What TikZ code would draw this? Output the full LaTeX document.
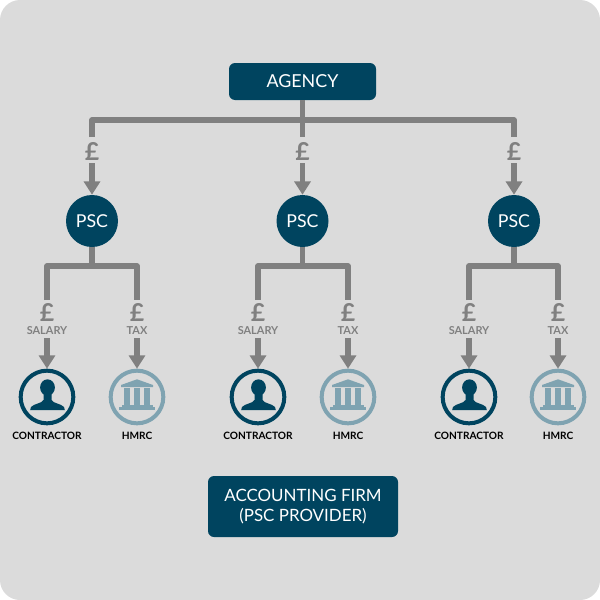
\documentclass[tikz,border=0pt]{standalone}
\usepackage{fontspec}
\setmainfont{Lato}
\usetikzlibrary{arrows.meta,calc}
\definecolor{navy}{HTML}{00445F}
\definecolor{teal}{HTML}{7FA3B1}
\definecolor{pale}{HTML}{DBDBDB}
\definecolor{wire}{HTML}{808080}
\tikzset{
  x=0.75pt,y=-0.75pt,
  box/.style={fill=navy,rounded corners=4.5pt,text=white,font=\fontsize{12.7}{15.5}\selectfont,align=center,inner sep=0pt},
  pscnode/.style={circle,fill=navy,text=white,minimum size=39pt,inner sep=0pt,font=\fontsize{13.3}{15}\selectfont},
  ring/.style={circle,draw=#1,line width=3pt,minimum size=39.5pt,inner sep=0pt},
  wireline/.style={draw=wire,line width=4pt,line join=round},
  arrowline/.style={draw=wire,line width=4pt,-{Triangle[length=10pt,width=12pt,sep=0pt]},shorten >=0pt},
  pound/.style={text=wire,font=\bfseries\fontsize{18.5}{18.5}\selectfont,inner sep=0pt},
  sublabel/.style={text=wire,font=\bfseries\fontsize{8.2}{9}\selectfont,inner sep=0pt},
  caption/.style={text=black,font=\bfseries\fontsize{7.6}{9}\selectfont,inner sep=0pt},
  person/.pic={
    \fill[navy] (0.5,-9.5) ellipse [x radius=7.4,y radius=8.2];
    \fill[navy] (-3.5,-5) -- (-3.5,3) .. controls (-5,6.5) and (-13,6.5) .. (-16,10) -- (-16.8,13) -- (17.8,13) -- (17,10) .. controls (14,6.5) and (6,6.5) .. (4.5,3) -- (4.5,-5) -- cycle;
  },
  bank/.pic={
    \fill[teal] (0,-17.7) -- (16,-12) -- (16,-10) -- (-16,-10) -- (-16,-12) -- cycle;
    \fill[teal] (-13,-8.7) rectangle (-7,8);
    \fill[teal] (-3.3,-8.7) rectangle (3.3,8);
    \fill[teal] (7,-8.7) rectangle (13,8);
    \fill[teal] (-15.5,8) rectangle (15.5,10);
    \fill[teal] (-18,10) rectangle (18,12.5);
  }
}
\newcommand{\branch}[4]{%
  % #1 name, #2 psc x, #3 contractor x, #4 hmrc x
  \node[pscnode] (psc#1) at (#2,221) {PSC};
  \node[pound] (poundtop#1) at (#2,151) {£};
  \coordinate (split#1) at (#2,120);
  \coordinate (stub#1) at (#2,137);
  \coordinate (sub#1) at (#2,266);
  \coordinate (arrtop#1) at (#2,163);
  \draw[arrowline] (arrtop#1) -- (psc#1.north);
  \draw[wireline] (psc#1.south) -- (sub#1);
  \node[ring=navy] (con#1) at (#3,397) {};
  \node[ring=teal] (hmrc#1) at (#4,397) {};
  \pic at (con#1.center) {person};
  \pic at (hmrc#1.center) {bank};
  \node[pound] (poundl#1) at (#3,312) {£};
  \node[pound] (poundr#1) at (#4,312) {£};
  \node[sublabel] (sal#1) at (#3,330.5) {SALARY};
  \node[sublabel] (tax#1) at (#4,330.5) {TAX};
  \node[caption] (capc#1) at (#3,435.5) {CONTRACTOR};
  \node[caption] (caph#1) at (#4,435.5) {HMRC};
  \coordinate (la#1) at (#3,266);
  \coordinate (ra#1) at (#4,266);
  \coordinate (lb#1) at (#3,300);
  \coordinate (rb#1) at (#4,300);
  \coordinate (lc#1) at (#3,338);
  \coordinate (rc#1) at (#4,338);
  \draw[wireline] (lb#1) -- (la#1) -- (ra#1) -- (rb#1);
  \draw[arrowline] (lc#1) -- (con#1.north);
  \draw[arrowline] (rc#1) -- (hmrc#1.north);
}
\begin{document}
\begin{tikzpicture}
\useasboundingbox (0,0) rectangle (600,600);
\fill[white] (0,0) rectangle (600,600);
\fill[pale,rounded corners=15pt] (0,0) rectangle (600,600);
\node[box,minimum width=110.25pt,minimum height=27.75pt,font=\fontsize{13.4}{15.5}\selectfont] (agency) at (302.5,81.5) {AGENCY};
\node[box,minimum width=142.5pt,minimum height=45.75pt] (firm) at (303,506.5) {ACCOUNTING FIRM\\(PSC PROVIDER)};
\branch{a}{92}{47}{137}
\branch{b}{302.5}{258}{348}
\branch{c}{514}{469}{558}
\draw[wireline] (agency.south) -- (splitb) -- (stubb);
\draw[wireline] (stuba) -- (splita) -- (splitc) -- (stubc);
\end{tikzpicture}
\end{document}
